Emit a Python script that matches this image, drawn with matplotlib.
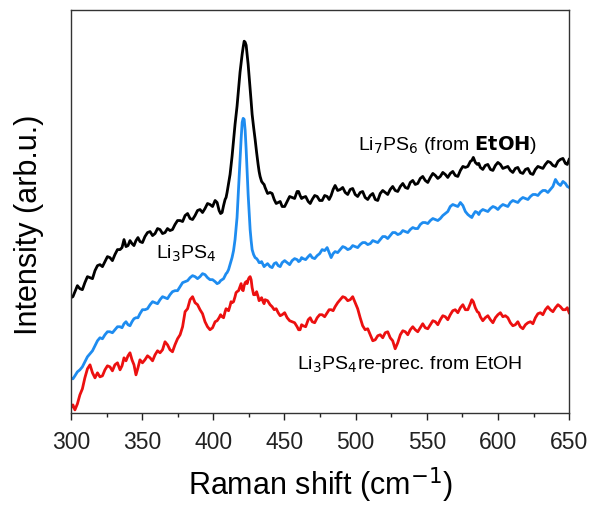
import matplotlib
matplotlib.use("Agg")
import matplotlib.pyplot as plt
from matplotlib.ticker import MultipleLocator

plt.rcParams['font.family'] = ['Liberation Sans', 'DejaVu Sans']

# Raman shift grid (cm-1)
shift = [300.0, 302.8, 306.3, 309.8, 313.4, 316.9, 320.4, 323.9, 327.4, 330.9,
         334.5, 337.3, 340.1, 342.9, 345.7, 348.5, 352.0, 355.6, 359.1, 362.6,
         366.1, 369.6, 373.1, 376.7, 380.2, 383.7, 387.2, 390.7, 394.2, 397.7,
         401.3, 404.1, 406.2, 408.3, 409.7, 411.8, 413.2, 415.3, 416.7, 418.8,
         420.3, 421.7, 423.1, 424.5, 425.9, 427.3, 429.4, 431.5, 432.9, 435.0,
         436.4, 439.9, 442.8, 445.6, 448.4, 451.9, 455.4, 458.9, 461.0, 463.1,
         466.7, 469.5, 473.0, 476.5, 480.0, 482.8, 485.6, 489.2, 492.7, 496.2,
         499.7, 503.2, 506.7, 510.3, 513.8, 517.3, 520.8, 524.3, 527.8, 531.4,
         534.9, 538.4, 541.9, 545.4, 548.9, 552.5, 556.0, 559.5, 563.0, 566.5,
         570.0, 573.6, 577.1, 580.6, 582.7, 585.5, 587.6, 591.1, 594.7, 598.2,
         601.7, 605.2, 608.7, 612.2, 615.7, 619.3, 622.8, 626.3, 629.8, 633.3,
         636.8, 640.4, 643.9, 647.4, 650.0]

# Li7PS6 (from EtOH) - black: values on the grid, then the in-between readings
li7ps6 = [115, 121, 124, 130, 135, 142, 148, 151, 155, 158,
          163, 173, 167, 169, 172, 171, 176, 181, 179, 183,
          180, 182, 188, 192, 197, 194, 197, 203, 204, 208,
          212, 202, 200, 213, 220, 238, 256, 288, 306, 340,
          358, 371, 367, 348, 323, 298, 273, 248, 236, 229,
          225, 220, 213, 210, 206, 211, 215, 221, 217, 215,
          211, 213, 216, 212, 216, 217, 227, 223, 220, 223,
          218, 220, 215, 217, 213, 219, 220, 223, 222, 226,
          225, 230, 228, 234, 232, 235, 237, 236, 238, 239,
          237, 242, 245, 251, 255, 248, 245, 247, 243, 247,
          248, 245, 242, 244, 240, 243, 239, 243, 245, 248,
          250, 246, 253, 249, 253]
li7ps6_mid = [116, 127, 123, 136, 134, 147, 146, 156, 152, 163,
              165, 166, 172, 167, 175, 170, 180, 177, 184, 179,
              184, 183, 192, 191, 199, 193, 202, 200, 209, 206,
              210, 199, 207, 215, 229, 247, 272, 297, 323, 349,
              365, 370, 358, 336, 311, 285, 260, 241, 231, 228,
              219, 219, 209, 211, 206, 216, 214, 221, 214, 216,
              209, 217, 212, 217, 213, 223, 222, 225, 218, 224,
              216, 221, 213, 219, 212, 222, 218, 226, 221, 229,
              224, 232, 229, 236, 230, 239, 234, 240, 235, 241,
              236, 246, 246, 252, 250, 249, 243, 248, 242, 250,
              244, 246, 240, 245, 239, 244, 238, 246, 244, 251,
              247, 251, 254, 248]

# Li3PS4 - blue
li3ps4 = [35, 37, 43, 51, 59, 67, 75, 78, 81, 83,
          86, 89, 88, 91, 95, 99, 103, 108, 110, 113,
          115, 118, 122, 126, 131, 135, 136, 136, 138, 133,
          131, 130, 133, 137, 140, 148, 155, 173, 195, 253,
          290, 293, 263, 218, 183, 163, 155, 152, 150, 148,
          147, 146, 149, 147, 150, 150, 152, 153, 152, 154,
          156, 155, 157, 163, 165, 155, 161, 163, 165, 164,
          166, 168, 170, 169, 171, 173, 176, 177, 180, 179,
          181, 183, 184, 188, 190, 192, 193, 194, 199, 206,
          207, 210, 201, 196, 198, 200, 201, 202, 204, 205,
          206, 207, 210, 211, 213, 214, 216, 218, 220, 222,
          223, 233, 227, 229, 225]
li3ps4_mid = [34, 41, 46, 56, 62, 72, 74, 81, 80, 86,
              85, 91, 87, 94, 95, 103, 104, 111, 109, 116,
              114, 121, 122, 130, 132, 137, 134, 139, 135, 133,
              129, 132, 134, 139, 143, 151, 162, 184, 224, 273,
              294, 282, 240, 200, 172, 158, 154, 150, 151, 146,
              149, 145, 150, 146, 152, 148, 154, 151, 155, 153,
              158, 154, 159, 162, 160, 159, 160, 166, 163, 167,
              165, 170, 168, 172, 170, 176, 174, 180, 178, 182,
              180, 185, 184, 190, 189, 194, 192, 197, 201, 208,
              206, 207, 198, 195, 201, 198, 203, 201, 206, 203,
              208, 206, 212, 210, 215, 213, 218, 217, 222, 220,
              226, 229, 231, 226]

# Li3PS4 re-prec. from EtOH - red
li3ps4_re = [5, 3, 18, 35, 48, 35, 36, 43, 46, 48,
             43, 55, 57, 53, 38, 53, 53, 55, 58, 60,
             71, 63, 68, 78, 101, 113, 110, 103, 91, 83,
             91, 95, 96, 101, 103, 107, 110, 116, 121, 126,
             123, 127, 131, 133, 136, 125, 118, 116, 113, 111,
             113, 108, 103, 100, 98, 95, 91, 86, 83, 87,
             93, 91, 95, 98, 100, 103, 106, 113, 115, 113,
             110, 95, 83, 78, 73, 78, 80, 75, 64, 78,
             81, 83, 83, 85, 85, 88, 91, 93, 96, 98,
             103, 105, 103, 109, 111, 101, 96, 95, 93, 95,
             100, 97, 90, 88, 86, 88, 91, 95, 100, 103,
             103, 105, 106, 103, 100]
li3ps4_re_mid = [8, 9, 24, 44, 40, 40, 37, 47, 42, 50,
                 47, 52, 60, 48, 45, 50, 57, 52, 62, 63,
                 68, 61, 74, 86, 104, 116, 108, 99, 86, 85,
                 92, 98, 95, 104, 102, 111, 111, 120, 122, 129,
                 122, 130, 129, 135, 133, 118, 121, 112, 115, 109,
                 112, 106, 104, 97, 100, 92, 90, 83, 88, 86,
                 95, 90, 98, 96, 103, 102, 110, 116, 112, 116,
                 104, 87, 84, 72, 77, 75, 81, 72, 70, 82,
                 78, 86, 81, 89, 84, 92, 88, 97, 93, 102,
                 100, 108, 103, 113, 105, 100, 92, 97, 90, 98,
                 96, 95, 87, 91, 84, 90, 89, 99, 98, 106,
                 101, 108, 103, 105]


def merge(grid_vals, mid_vals):
    xs, ys = [], []
    for i in range(len(shift)):
        xs.append(shift[i])
        ys.append(grid_vals[i])
        if i < len(mid_vals):
            xs.append((shift[i] + shift[i + 1]) / 2)
            ys.append(mid_vals[i])
    return xs, ys


fig = plt.figure(figsize=(5.91, 5.06), dpi=100)
ax = fig.add_axes([0.120, 0.182, 0.843, 0.796])

ax.plot(*merge(li3ps4_re, li3ps4_re_mid), color='#ec1010', lw=2)
ax.plot(*merge(li3ps4, li3ps4_mid), color='#1e8cf0', lw=2)
ax.plot(*merge(li7ps6, li7ps6_mid), color='black', lw=2)

ax.set_xlim(300, 650)
ax.set_ylim(0, 402)
ax.xaxis.set_major_locator(MultipleLocator(50))
ax.xaxis.set_minor_locator(MultipleLocator(25))
ax.tick_params(axis='x', which='major', direction='out', length=5, width=1,
               labelsize=16.5, pad=7, colors='#222222')
ax.tick_params(axis='x', which='minor', direction='out', length=3, width=1,
               colors='#222222')
ax.set_yticks([])
for s in ax.spines.values():
    s.set_color('#333333')
    s.set_linewidth(1)

ax.set_xlabel('Raman shift (cm$^{-1}$)', fontsize=22)
ax.xaxis.set_label_coords(0.501, -0.128)
ax.set_ylabel('Intensity (arb.u.)', fontsize=22)
ax.yaxis.set_label_coords(-0.054, 0.47)

ax.text(501.8, 263, 'Li$_7$PS$_6$ (from $\\mathbf{EtOH}$)', fontsize=14, va='baseline')
ax.text(359.8, 155, 'Li$_3$PS$_4$', fontsize=14, va='baseline')
ax.text(458.9, 45, 'Li$_3$PS$_4$re-prec. from EtOH', fontsize=14, va='baseline')

fig.savefig('out.png', dpi=100)
